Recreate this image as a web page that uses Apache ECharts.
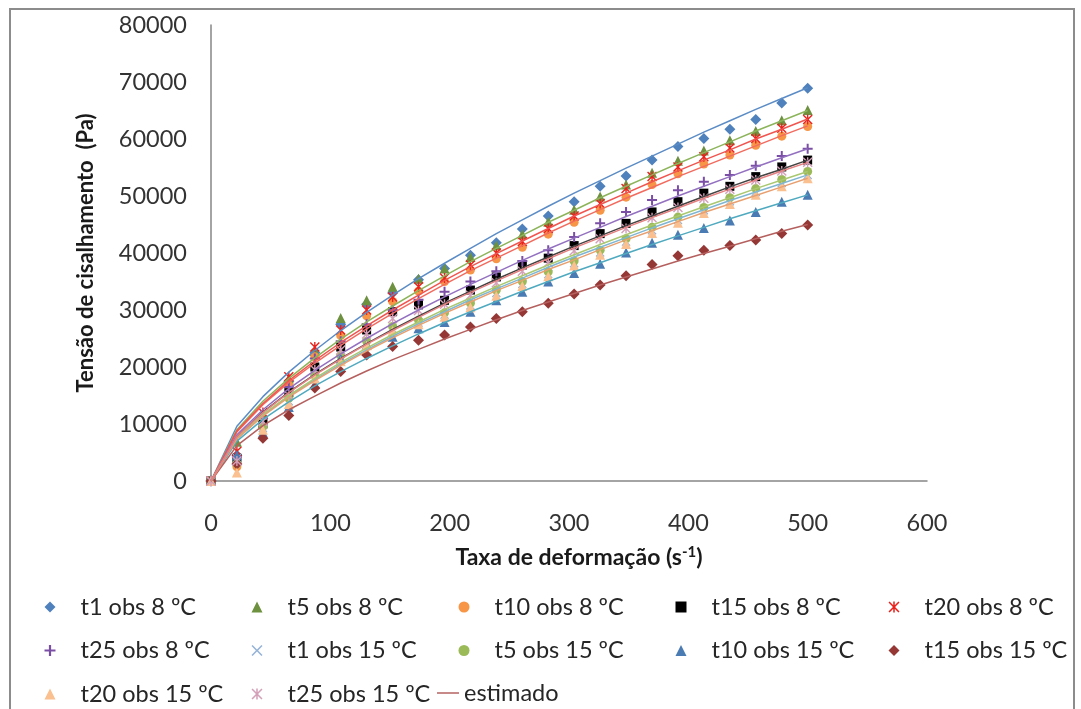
<!DOCTYPE html>
<html>
<head>
<meta charset="utf-8">
<script src="https://cdn.jsdelivr.net/npm/echarts@6/dist/echarts.min.js"></script>
<style>
html,body{margin:0;padding:0;background:#fff;}
#chart{width:1081px;height:709px;}
</style>
</head>
<body>
<div id="chart"></div>
<script>
// ---- data ----
const shearRate = [0, 21.7, 43.5, 65.2, 87.0, 108.7, 130.4, 152.2, 173.9, 195.7, 217.4, 239.1, 260.9, 282.6, 304.3, 326.1, 347.8, 369.6, 391.3, 413.0, 434.8, 456.5, 478.3, 500];

const t1obs8   = [0, 4500, 11000, 17500, 22500, 27500, 31000, 33000, 35300, 37300, 39600, 41800, 44200, 46500, 49000, 51700, 53500, 56300, 58700, 60100, 61700, 63400, 66300, 68900];
const t5obs8   = [0, 6900, 11700, 18000, 22800, 28600, 31700, 34100, 35500, 37300, 39300, 41300, 43300, 45500, 47600, 49900, 52000, 54100, 56200, 58000, 59800, 61400, 63300, 65100];
const t10obs8  = [0, 2500, 10500, 16800, 21800, 25500, 29000, 31500, 33300, 35000, 37000, 39000, 41000, 43300, 45400, 47500, 49800, 52000, 53900, 55600, 57200, 58900, 60500, 62200];
const t15obs8  = [0, 4000, 10000, 15500, 20000, 23500, 26500, 29700, 30900, 31700, 33500, 35800, 37900, 39100, 41300, 43400, 45200, 47200, 49000, 50500, 51700, 53400, 55100, 56300];
const t20obs8  = [0, 5200, 12000, 18300, 23500, 26500, 30000, 32300, 34100, 35600, 37900, 40000, 42000, 44300, 46500, 48700, 51300, 53400, 55100, 56900, 58400, 60100, 61900, 63400];
const t25obs8  = [0, 4200, 11000, 16500, 21500, 24500, 27500, 30000, 31800, 33200, 35000, 36800, 38600, 40500, 42800, 45200, 47200, 49300, 51000, 52500, 53700, 55300, 57000, 58300];
const t1obs15  = [0, 4000, 9300, 14000, 18000, 21500, 24200, 26700, 27800, 29200, 30800, 33000, 34600, 36300, 38200, 40100, 42000, 44000, 45800, 47500, 49100, 50700, 52300, 53700];
const t5obs15  = [0, 3000, 9500, 14500, 18500, 22000, 24500, 27100, 28200, 29500, 31200, 33500, 35000, 36700, 38600, 40500, 42500, 44500, 46300, 48000, 49700, 51300, 52900, 54300];
const t10obs15 = [0, 4500, 8500, 13000, 17000, 21500, 23900, 25300, 26800, 27900, 29700, 31700, 33200, 35000, 36500, 38100, 40100, 41800, 43200, 44400, 45700, 47200, 49000, 50200];
const t15obs15 = [0, 3000, 7500, 11500, 16300, 19200, 22100, 23600, 24700, 25600, 27000, 28500, 29700, 31200, 32800, 34400, 36000, 38000, 39500, 40500, 41300, 42300, 43400, 44900];
const t20obs15 = [0, 1500, 9000, 13500, 18000, 21000, 23800, 26300, 27500, 28800, 30500, 32500, 34200, 35900, 37800, 39700, 41600, 43500, 45300, 47000, 48600, 50200, 51700, 53100];
const t25obs15 = [0, 3500, 10500, 15000, 19500, 23000, 25800, 28500, 29900, 31000, 32600, 34800, 36800, 38300, 40400, 42500, 44300, 46200, 48000, 49600, 51200, 52800, 54400, 55900];

// estimated (model) curves, one per observed series
const est_t1obs8   = [0, 9600, 14800, 19100, 22900, 26400, 29600, 32600, 35500, 38200, 40800, 43400, 45800, 48200, 50500, 52700, 54900, 57000, 59100, 61200, 63200, 65200, 67100, 69000];
const est_t5obs8   = [0, 9000, 14000, 18000, 21600, 24900, 27900, 30700, 33400, 36000, 38500, 40800, 43100, 45400, 47500, 49700, 51700, 53700, 55700, 57600, 59500, 61400, 63200, 65000];
const est_t10obs8  = [0, 8600, 13400, 17300, 20700, 23800, 26700, 29400, 32000, 34500, 36900, 39100, 41300, 43500, 45600, 47600, 49600, 51500, 53400, 55200, 57000, 58800, 60600, 62300];
const est_t15obs8  = [0, 7800, 12100, 15600, 18700, 21500, 24100, 26600, 28900, 31200, 33300, 35400, 37400, 39300, 41200, 43000, 44800, 46500, 48200, 49900, 51600, 53200, 54700, 56300];
const est_t20obs8  = [0, 8800, 13600, 17600, 21100, 24300, 27200, 30000, 32600, 35200, 37600, 39900, 42100, 44300, 46500, 48500, 50500, 52500, 54400, 56300, 58100, 60000, 61700, 63500];
const est_t25obs8  = [0, 8100, 12500, 16200, 19400, 22300, 25000, 27600, 30000, 32300, 34500, 36600, 38700, 40700, 42600, 44500, 46400, 48200, 50000, 51700, 53400, 55100, 56700, 58300];
const est_t1obs15  = [0, 7400, 11500, 14900, 17800, 20500, 23000, 25400, 27600, 29700, 31800, 33700, 35600, 37500, 39300, 41000, 42700, 44400, 46000, 47600, 49200, 50700, 52200, 53700];
const est_t5obs15  = [0, 7500, 11700, 15000, 18000, 20800, 23300, 25700, 27900, 30100, 32100, 34100, 36000, 37900, 39700, 41500, 43200, 44900, 46500, 48100, 49700, 51300, 52800, 54300];
const est_t10obs15 = [0, 7000, 10800, 13900, 16700, 19200, 21500, 23700, 25800, 27800, 29700, 31500, 33300, 35000, 36700, 38300, 39900, 41500, 43000, 44500, 46000, 47400, 48800, 50200];
const est_t15obs15 = [0, 6200, 9700, 12500, 14900, 17200, 19300, 21300, 23100, 24900, 26600, 28300, 29900, 31400, 32900, 34400, 35800, 37200, 38600, 39900, 41200, 42500, 43800, 45000];
const est_t20obs15 = [0, 7400, 11400, 14700, 17600, 20300, 22800, 25100, 27300, 29400, 31400, 33400, 35200, 37100, 38800, 40600, 42300, 43900, 45500, 47100, 48600, 50100, 51600, 53100];
const est_t25obs15 = [0, 7800, 12000, 15500, 18600, 21400, 24000, 26400, 28700, 31000, 33100, 35100, 37100, 39000, 40900, 42700, 44500, 46200, 47900, 49600, 51200, 52800, 54400, 55900];

const obsNames = ['t1 obs 8 ºC','t5 obs 8 ºC','t10 obs 8 ºC','t15 obs 8 ºC','t20 obs 8 ºC','t25 obs 8 ºC',
                  't1 obs 15 ºC','t5 obs 15 ºC','t10 obs 15 ºC','t15 obs 15 ºC','t20 obs 15 ºC','t25 obs 15 ºC'];
const estName = 'estimado';

// ---- styling ----
const P_PLUS = 'path://M4,0H6V10H4Z M0,4H10V6H0Z';
const P_X = 'path://M1,0L5,4L9,0L10,1L6,5L10,9L9,10L5,6L1,10L0,9L4,5L0,1Z';
const P_AST = 'path://M1,0L5,4L9,0L10,1L6,5L10,9L9,10L5,6L1,10L0,9L4,5L0,1Z M4.3,0H5.7V10H4.3Z';
const P_LINE = 'path://M0,0H30V2H0Z';

const obsData = [t1obs8, t5obs8, t10obs8, t15obs8, t20obs8, t25obs8, t1obs15, t5obs15, t10obs15, t15obs15, t20obs15, t25obs15];
const estData = [est_t1obs8, est_t5obs8, est_t10obs8, est_t15obs8, est_t20obs8, est_t25obs8, est_t1obs15, est_t5obs15, est_t10obs15, est_t15obs15, est_t20obs15, est_t25obs15];
const obsStyle = [
  {sym:'diamond',  size:11, color:'#4F81BD'},
  {sym:'triangle', size:10, color:'#6E9140'},
  {sym:'circle',   size:9,  color:'#F79646'},
  {sym:'rect',     size:9,  color:'#000000'},
  {sym:P_AST,      size:10, color:'#E8231E'},
  {sym:P_PLUS,     size:10, color:'#7B4FA6'},
  {sym:P_X,        size:9,  color:'#95B3D7'},
  {sym:'circle',   size:9,  color:'#9BBB59'},
  {sym:'triangle', size:10, color:'#4A7BB3'},
  {sym:'diamond',  size:11, color:'#953735'},
  {sym:'triangle', size:10, color:'#FAC090'},
  {sym:P_AST,      size:10, color:'#D4A0B8'}
];
const estColors = ['#5B8CC6','#8CB45A','#F26B5E','#444444','#F0554F','#9370C0','#7FB6D4','#A9C870','#4FAAC0','#B5605E','#E8A070','#E58080'];

const FONT = 'Lato, "Open Sans", sans-serif';

const series = [];
obsNames.forEach((n, k) => {
  series.push({
    name: n, type: 'scatter',
    symbol: obsStyle[k].sym, symbolSize: obsStyle[k].size,
    itemStyle: {color: obsStyle[k].color, opacity: 1},
    data: shearRate.map((x, i) => [x, obsData[k][i]]),
    z: 2
  });
});
estData.forEach((d, k) => {
  series.push({
    name: k === 9 ? estName : ('est ' + obsNames[k]),
    type: 'line', symbol: 'none', showSymbol: false,
    lineStyle: {color: estColors[k], width: 1.5},
    itemStyle: {color: estColors[k]},
    data: shearRate.map((x, i) => [x, d[i]]),
    z: 3
  });
});

const LFS = 23.5;
const legendBase = {
  orient: 'vertical', itemWidth: 11, itemHeight: 11, itemGap: 19.5, padding: 0,
  textStyle: {fontFamily: FONT, fontSize: LFS, color: '#262626', padding: [0, 0, 0, 20]},
  selectedMode: false, top: 595
};
function col(left, idx) {
  return Object.assign({}, legendBase, {left: left, data: idx.map(i => ({name: obsNames[i], icon: obsStyle[i].sym}))});
}
const legends = [
  col(44.5, [0, 5, 10]),
  col(251.5, [1, 6, 11]),
  col(458.5, [2, 7]),
  col(675.5, [3, 8]),
  col(888.5, [4, 9]),
  Object.assign({}, legendBase, {left: 437, top: 681, itemWidth: 22, itemHeight: 2,
    textStyle: {fontFamily: FONT, fontSize: LFS, color: '#262626'},
    data: [{name: estName, icon: P_LINE}]})
];

const chart = echarts.init(document.getElementById('chart'));
chart.setOption({
  animation: false,
  backgroundColor: '#ffffff',
  grid: {left: 211, right: 154, top: 25, bottom: 228, containLabel: false},
  xAxis: {
    type: 'value', min: 0, max: 600, interval: 100,
    axisLine: {show: true, lineStyle: {color: '#868686', width: 1.5}},
    axisTick: {show: false}, splitLine: {show: false},
    axisLabel: {fontFamily: FONT, fontSize: 23.5, color: '#333333', margin: 30, formatter: v => String(v)},
    name: 'Taxa de deformação (s{sup|-1})', nameLocation: 'middle', nameGap: 64,
    nameTextStyle: {fontFamily: FONT, fontSize: 23, fontWeight: 'bold', color: '#1a1a1a', padding: [0,0,0,20],
      rich: {sup: {fontFamily: FONT, fontSize: 15, fontWeight: 'bold', color: '#1a1a1a', padding: [0,0,11,0]}}}
  },
  yAxis: {
    type: 'value', min: 0, max: 80000, interval: 10000,
    axisLine: {show: true, lineStyle: {color: '#868686', width: 1.5}},
    axisTick: {show: false}, splitLine: {show: false},
    axisLabel: {fontFamily: FONT, fontSize: 23.5, color: '#333333', margin: 24, formatter: v => String(v)},
    name: 'Tensão de cisalhamento  (Pa)', nameLocation: 'middle', nameGap: 114, nameRotate: 90,
    nameTextStyle: {fontFamily: FONT, fontSize: 22, fontWeight: 'bold', color: '#1a1a1a'}
  },
  legend: legends,
  graphic: [{
    type: 'rect', silent: true, z: -1,
    shape: {x: 10, y: 9, width: 1064, height: 730},
    style: {fill: 'none', stroke: '#8c8c8c', lineWidth: 2}
  }],
  series: series
});
</script>
</body>
</html>
